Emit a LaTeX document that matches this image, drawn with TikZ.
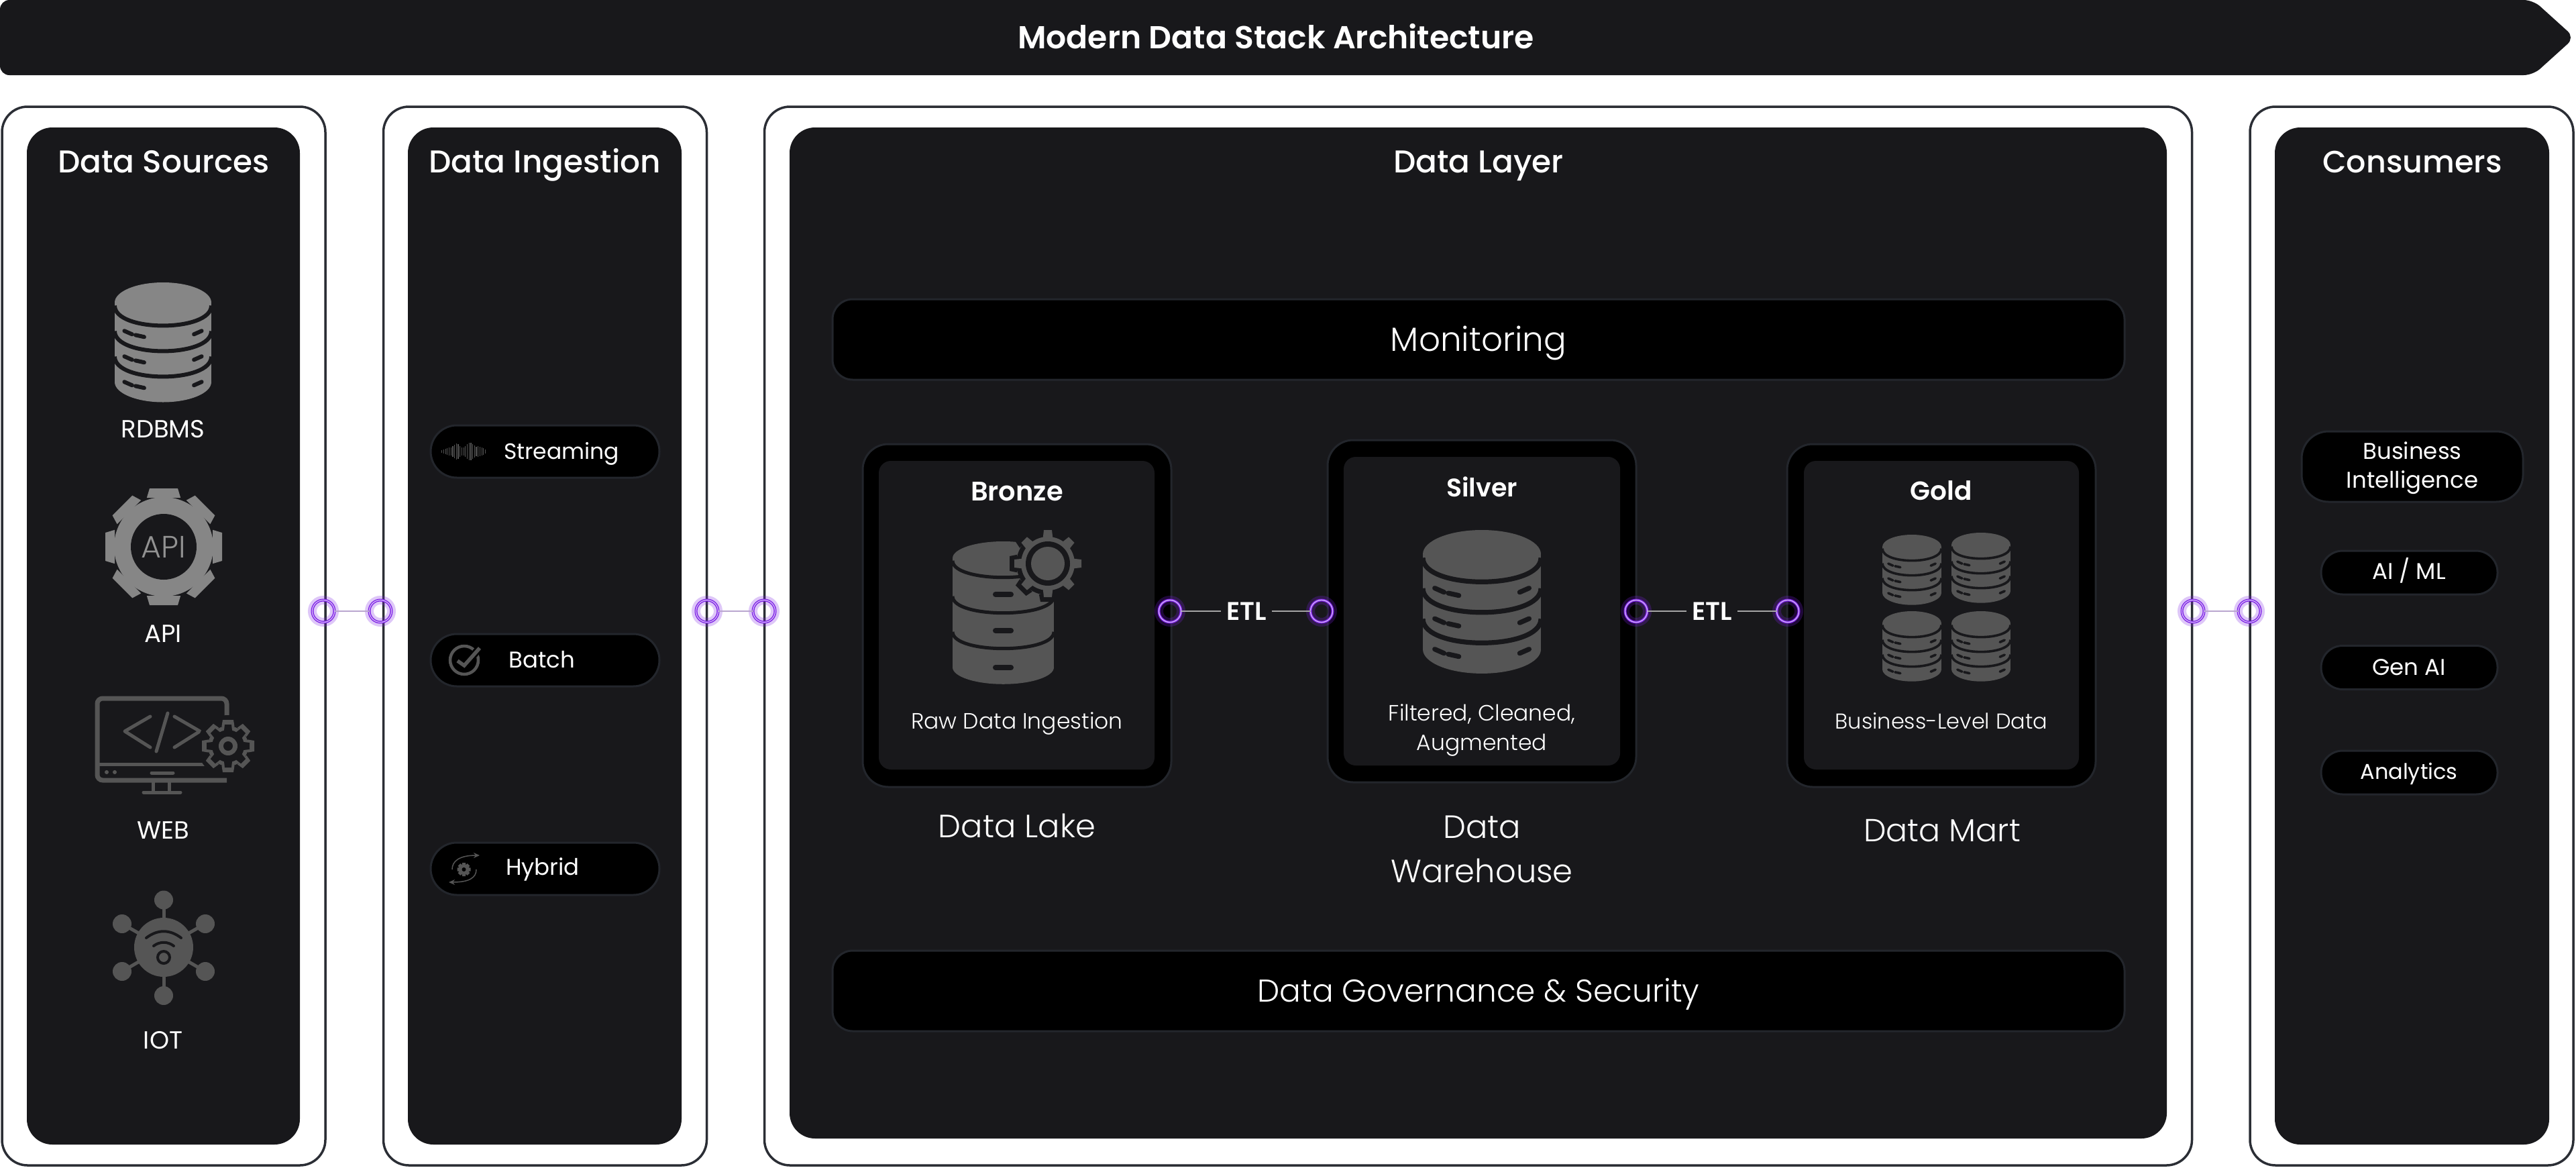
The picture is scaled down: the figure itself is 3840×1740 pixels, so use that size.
\documentclass[tikz,border=0pt]{standalone}
\usepackage{fontspec}
\setmainfont{Poppins}
\newfontfamily\medfont{Poppins Medium}
\newfontfamily\lightfont{Poppins Light}
\newfontfamily\semifont{Poppins SemiBold}
\usetikzlibrary{positioning,arrows.meta}

\definecolor{panelfill}{HTML}{18181B}
\definecolor{edgeline}{HTML}{2B2E35}
\definecolor{pillline}{HTML}{23262C}
\definecolor{iconlight}{HTML}{868686}
\definecolor{icondark}{HTML}{555555}
\definecolor{glowpurple}{HTML}{7E22E6}
\definecolor{linkline}{HTML}{B9A6CF}

\tikzset{
  outerbox/.style = {draw = edgeline, line width = 3.5, fill = white, rounded corners = 38, inner sep = 0},
  panelbox/.style = {fill = panelfill, rounded corners = 38, inner sep = 0},
  pillbox/.style = {draw = pillline, line width = 3, fill = black, inner sep = 0},
  port/.style = {circle, minimum size = 33, inner sep = 0, outer sep = 0, draw = glowpurple, line width = 4,
    preaction = {draw = glowpurple, line width = 13, opacity = .25},
    postaction = {draw = white!70!glowpurple, line width = 1.2}},
  lbl/.style = {text = white, inner sep = 0, text depth = 0pt},
  lbls/.style = {text = white, inner sep = 0, align = center},
  plain/.style = {font = \fontsize{#1}{#1}\selectfont, text height = .7*#1},
  light/.style = {font = \lightfont\fontsize{#1}{#1}\selectfont, text height = .7*#1},
  medium/.style = {font = \medfont\fontsize{#1}{#1}\selectfont, text height = .7*#1},
  semi/.style = {font = \semifont\fontsize{#1}{#1}\selectfont, text height = .7*#1}
}

% cx, cy of top ellipse, half width, ry, band, colour
\newcommand{\dbicon}[6]{%
  \begin{scope}[shift = {(#1,#2)}]
    \fill[#6] (0,0) ellipse [x radius = #3, y radius = #4];
    \fill[#6] (-#3,0) rectangle (#3,3*#5+.15*#4);
    \fill[#6] (0,3*#5+.15*#4) ellipse [x radius = #3, y radius = #4];
    \foreach \k in {0,1,2}
      \draw[panelfill, line width = .2*#4] (-#3,\k*#5+.15*#4) .. controls (-#3,\k*#5+1.48*#4) and (#3,\k*#5+1.48*#4) .. (#3,\k*#5+.15*#4);
  \end{scope}}

% the three small marks on each band
\newcommand{\dbslots}[5]{%
  \begin{scope}[shift = {(#1,#2)}]
    \foreach \k in {0,1,2} {
      \pgfmathsetmacro{\sy}{.15*#4+\k*#5+#4+.27*#5}
      \draw[panelfill, line width = .2*#4, line cap = round] (-.8*#3,\sy-.035*#3) -- (-.64*#3,\sy+.035*#3);
      \draw[panelfill, line width = .2*#4, line cap = round] (-.57*#3,\sy+.05*#3) -- (-.39*#3,\sy+.09*#3);
      \draw[panelfill, line width = .2*#4, line cap = round] (.64*#3,\sy+.035*#3) -- (.8*#3,\sy-.035*#3);
    }
  \end{scope}}

% cx, cy, root radius, tip radius, tooth half width, colour
\newcommand{\gearicon}[6]{%
  \begin{scope}[shift = {(#1,#2)}]
    \fill[#6] (0,0) circle (#3);
    \foreach \a in {0,45,...,315}
      \fill[#6, rotate = \a] (-1.2*#5,-#3+1) -- (-#5,-#4) -- (#5,-#4) -- (1.2*#5,-#3+1) -- cycle;
  \end{scope}}

\begin{document}
\begin{tikzpicture}[x = 1pt, y = -1pt]
\useasboundingbox (0,0) rectangle (3840,1740);
\fill[white] (0,0) rectangle (3840,1740);

% title banner
\fill[panelfill, rounded corners = 14] (0,0) -- (3776,0) -- (3838,56) -- (3776,112) -- (0,112) -- cycle;
\node[lbl, semi = 47.3] (title) at (1902,56) {Modern Data Stack Architecture};

% columns
\node[outerbox, minimum width = 482, minimum height = 1578] (srcouter) at (244,948) {};
\node[outerbox, minimum width = 482, minimum height = 1578] (ingouter) at (812.5,948) {};
\node[outerbox, minimum width = 2128, minimum height = 1578] (layouter) at (2203.5,948) {};
\node[outerbox, minimum width = 482, minimum height = 1578] (conouter) at (3595,948) {};
\node[panelbox, minimum width = 407, minimum height = 1516] (srcpanel) at (243.5,948) {};
\node[panelbox, minimum width = 408, minimum height = 1516] (ingpanel) at (812,948) {};
\node[panelbox, minimum width = 2053, minimum height = 1507] (laypanel) at (2203.5,943.5) {};
\node[panelbox, minimum width = 409, minimum height = 1516] (conpanel) at (3595.5,948) {};

\node[lbl, medium = 47] (srctitle) at (244,241) {Data Sources};
\node[lbl, medium = 47] (ingtitle) at (812,241) {Data Ingestion};
\node[lbl, medium = 47] (laytitle) at (2204,241) {Data Layer};
\node[lbl, medium = 46] (contitle) at (3596,241) {Consumers};

% data sources
\dbicon{243}{451}{72}{30}{38}{iconlight}
\dbslots{243}{451}{72}{30}{38}
\node[lbl, plain = 37] (rdbms) at (243,640) {RDBMS};

\gearicon{244}{815}{74}{87}{21}{iconlight}
\fill[panelfill] (244,815) circle (49);
\node[lbl, text = iconlight!90, light = 46] (apiicon) at (244,815) {API};
\node[lbl, plain = 37] (api) at (243,945) {API};

\draw[icondark, line width = 7, rounded corners = 8] (338,1072) -- (338,1041) -- (145,1041) -- (145,1163) -- (338,1163);
\draw[icondark, line width = 5] (145,1139) -- (310,1139);
\draw[icondark, line width = 5, line cap = round, line join = round] (224,1068) -- (186,1090) -- (224,1114);
\draw[icondark, line width = 5, line cap = round] (250,1063) -- (233,1120);
\draw[icondark, line width = 5, line cap = round, line join = round] (260,1068) -- (298,1090) -- (260,1114);
\fill[icondark] (159,1151) circle (3) (171,1151) circle (3);
\draw[icondark, line width = 5, line cap = round] (226,1152) -- (258,1152);
\draw[icondark, line width = 5] (228,1166) -- (228,1181) (252,1166) -- (252,1181);
\draw[icondark, line width = 5, line cap = round] (214,1181) -- (269,1181);
\fill[panelfill] (340,1112) circle (46);
\gearicon{340}{1112}{30}{39}{8}{icondark}
\gearicon{340}{1112}{24}{32}{5}{panelfill}
\fill[icondark] (340,1112) circle (14);
\fill[panelfill] (340,1112) circle (7);
\node[lbl, plain = 37] (web) at (243,1238) {WEB};

\foreach \xa/\ya in {244/1341.5,244/1484,182/1377,306/1377,182/1448,306/1448} {
  \draw[icondark, line width = 5] (244,1412) -- (\xa,\ya);
  \fill[icondark] (\xa,\ya) circle (14);
}
\fill[icondark] (244,1412) circle (44);
\draw[panelfill, line width = 4, line cap = round] (218,1398) .. controls (235,1385) and (253,1385) .. (270,1398);
\draw[panelfill, line width = 4, line cap = round] (229,1410) .. controls (238,1403) and (250,1403) .. (259,1410);
\draw[panelfill, line width = 4] (244,1427) circle (9);
\node[lbl, plain = 37] (iot) at (243,1551) {IOT};

% ingestion
\node[pillbox, rounded corners = 39, minimum width = 341, minimum height = 78] (streambox) at (812.5,673) {};
\node[pillbox, rounded corners = 39, minimum width = 341, minimum height = 78] (batchbox) at (812.5,984) {};
\node[pillbox, rounded corners = 39, minimum width = 341, minimum height = 78] (hybridbox) at (812.5,1295) {};
\node[lbl, plain = 33] (streaming) at (837,673) {Streaming};
\node[lbl, plain = 34] (batch) at (808,984) {Batch};
\node[lbl, plain = 34] (hybrid) at (809,1293) {Hybrid};

\foreach \h [count = \i] in {2,3,4,5,6,6,8,10,12,11,8,6,6,8,11,13,13,11,9,7,8,7,6,5,3}
  \draw[icondark, line width = 1.2] (656+\i*2.7,673-\h) -- (656+\i*2.7,673+\h);

\draw[icondark, line width = 4.5] (692,984) circle (21);
\draw[black, line width = 11] (682,985) -- (692,992) -- (715,966);
\draw[icondark, line width = 5.5] (682,985) -- (692,992) -- (715,966);

\gearicon{691.5}{1296}{7}{10}{2.5}{icondark}
\fill[black] (691.5,1296) circle (3);
\draw[icondark, line width = 1.5, -{Stealth[length = 9, width = 8]}] (674,1296) .. controls (674,1284) and (684,1275) .. (715,1275);
\draw[icondark, line width = 1.5, -{Stealth[length = 9, width = 8]}] (710,1296) .. controls (710,1308) and (700,1315) .. (669,1315);

% data layer bars
\node[pillbox, rounded corners = 30, minimum width = 1926, minimum height = 120] (monitorbox) at (2204,506) {};
\node[pillbox, rounded corners = 30, minimum width = 1926, minimum height = 120] (govbox) at (2204,1477) {};
\node[lbl, light = 50] (monitoring) at (2204,506) {Monitoring};
\node[lbl, light = 47] (governance) at (2204,1477) {Data Governance \& Security};

% medallion boxes
\node[pillbox, rounded corners = 38, minimum width = 460, minimum height = 511] (bronzeouter) at (1516,917.5) {};
\node[panelbox, rounded corners = 18, minimum width = 411, minimum height = 460] (bronzeinner) at (1515.5,917) {};
\node[pillbox, rounded corners = 38, minimum width = 460, minimum height = 510] (silverouter) at (2209,911) {};
\node[panelbox, rounded corners = 18, minimum width = 412, minimum height = 460] (silverinner) at (2209,911) {};
\node[pillbox, rounded corners = 38, minimum width = 460, minimum height = 511] (goldouter) at (2894,917.5) {};
\node[panelbox, rounded corners = 18, minimum width = 410, minimum height = 460] (goldinner) at (2894,917) {};

\node[lbl, semi = 40] (bronze) at (1516,732) {Bronze};
\dbicon{1495.5}{832}{75.5}{25}{53}{icondark}
\foreach \ys in {886,940,995}
  \draw[panelfill, line width = 8, line cap = round] (1484,\ys) -- (1507,\ys);
\gearicon{1562}{840}{47}{57}{11}{panelfill}
\gearicon{1562}{840}{40}{50}{6}{icondark}
\fill[panelfill] (1562,840) circle (33);
\fill[icondark] (1562,840) circle (25);
\node[lbl, light = 33] (rawdata) at (1516,1075) {Raw Data Ingestion};
\node[lbl, light = 48] (datalake) at (1516,1232) {Data Lake};

\node[lbl, semi = 38] (silver) at (2209,727) {Silver};
\dbicon{2209}{826}{88}{36}{45.5}{icondark}
\dbslots{2209}{826}{88}{36}{45.5}
\node[lbls, font = \lightfont\fontsize{33}{44}\selectfont] (filtered) at (2209,1088) {Filtered, Cleaned,\\Augmented};
\node[lbls, font = \lightfont\fontsize{48}{66}\selectfont] (warehouse) at (2209,1266) {Data\\Warehouse};

\node[lbl, semi = 39] (gold) at (2894,732) {Gold};
\foreach \xd/\yd in {2850/815,2953/812,2850/929,2953/929} {
  \dbicon{\xd}{\yd}{44}{18}{22}{icondark}
  \dbslots{\xd}{\yd}{44}{18}{22}
}
\node[lbl, light = 32] (bizdata) at (2894,1075) {Business-Level Data};
\node[lbl, light = 47.5] (datamart) at (2895,1238) {Data Mart};

% consumers
\node[pillbox, rounded corners = 40, minimum width = 330, minimum height = 105] (bibox) at (3596,695.5) {};
\node[pillbox, rounded corners = 32, minimum width = 263, minimum height = 65] (aibox) at (3591.5,853.5) {};
\node[pillbox, rounded corners = 32, minimum width = 263, minimum height = 65] (genbox) at (3591.5,995) {};
\node[pillbox, rounded corners = 32, minimum width = 263, minimum height = 65] (anabox) at (3591.5,1151.5) {};
\node[lbls, font = \fontsize{34}{43}\selectfont] (bi) at (3596,698) {Business\\Intelligence};
\node[lbl, plain = 34] (aiml) at (3591,852) {AI / ML};
\node[lbl, plain = 34] (genai) at (3591,995) {Gen AI};
\node[lbl, plain = 32] (analytics) at (3591,1150) {Analytics};

% ports and links
\node[port] (srcout) at (482,911) {};
\node[port] (ingin) at (567,911) {};
\node[port] (ingout) at (1054,911) {};
\node[port] (layin) at (1139,911) {};
\node[port] (bronzeout) at (1744,911) {};
\node[port] (silverin) at (1970,911) {};
\node[port] (silverout) at (2439,911) {};
\node[port] (goldin) at (2665,911) {};
\node[port] (layout) at (3269,911) {};
\node[port] (conin) at (3353,911) {};

\draw[linkline, line width = 2.5] (srcout) -- (ingin);
\draw[linkline, line width = 2.5] (ingout) -- (layin);
\draw[linkline, line width = 2.5] (layout) -- (conin);

\node[lbl, semi = 38] (etlone) at (1858,911) {ETL};
\node[lbl, semi = 38] (etltwo) at (2552,911) {ETL};
\draw[gray!70, line width = 2.5] (bronzeout) -- ([xshift = -8]etlone.west);
\draw[gray!70, line width = 2.5] ([xshift = 8]etlone.east) -- (silverin);
\draw[gray!70, line width = 2.5] (silverout) -- ([xshift = -8]etltwo.west);
\draw[gray!70, line width = 2.5] ([xshift = 8]etltwo.east) -- (goldin);
\end{tikzpicture}
\end{document}
